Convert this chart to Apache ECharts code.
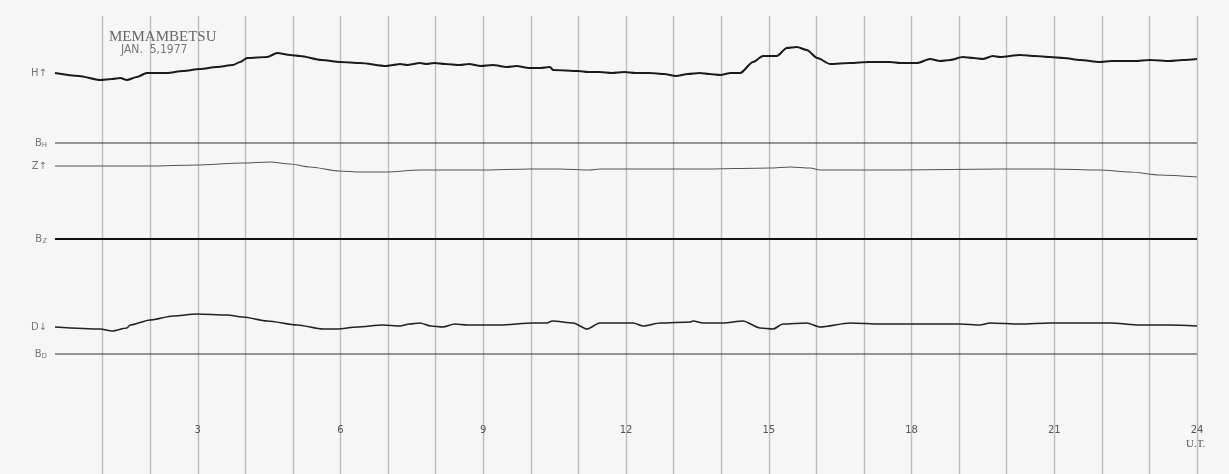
<!DOCTYPE html>
<html><head><meta charset="utf-8">
<style>html,body{margin:0;padding:0;background:#f6f6f6;}#c{width:1229px;height:474px;}</style>
<script src="https://cdn.jsdelivr.net/npm/echarts@6/dist/echarts.min.js"></script>
</head><body><div id="c"></div>
<script>
// Magnetogram record, Memambetsu, Jan 5 1977. x = hour (U.T.), y = trace height on record
const hourTicks = [3, 6, 9, 12, 15, 18, 21, 24];
const traceH = [[0,401],[0.5,398],[0.95,394],[1.2,395],[1.37,396],[1.51,394],[1.72,397],[1.93,401],[2.35,401],[2.69,403],[3.05,405],[3.4,407],[3.74,409],[3.89,412],[4.04,416],[4.46,417],[4.67,421],[4.94,419],[5.15,418],[5.6,414],[6.0,412],[6.41,411],[6.96,408],[7.1,409],[7.25,410],[7.4,409],[7.67,411],[7.8,410],[7.97,411],[8.2,410],[8.5,409],[8.7,410],[8.95,408],[9.2,409],[9.5,407],[9.7,408],[9.96,406],[10.2,406],[10.4,407],[10.47,404],[11.0,403],[11.2,402],[11.45,402],[11.7,401],[11.96,402],[12.2,401],[12.5,401],[12.8,400],[13.05,398],[13.3,400],[13.55,401],[13.75,400],[13.98,399],[14.2,401],[14.4,401],[14.67,412],[14.88,418],[15.17,418],[15.38,426],[15.59,427],[15.8,424],[16.02,416],[16.29,410],[16.71,411],[17.1,412],[17.55,412],[17.76,411],[18.12,411],[18.39,415],[18.6,413],[18.81,414],[19.08,417],[19.3,416],[19.5,415],[19.71,418],[19.86,417],[20.28,419],[20.6,418],[20.91,417],[21.2,416],[21.54,414],[21.96,412],[22.2,413],[22.38,413],[22.7,413],[23.01,414],[23.43,413],[23.7,414],[24,415]];
const traceZ = [[0,308],[0.97,308],[2.0,308],[2.96,309],[3.95,311],[4.52,312],[4.94,310],[5.36,307],[5.97,303],[6.41,302],[6.96,302],[7.67,304],[8.95,304],[9.96,305],[10.61,305],[11.24,304],[11.45,305],[12.5,305],[13.56,305],[15.03,306],[15.45,307],[15.87,306],[16.08,304],[16.92,304],[17.76,304],[19.86,305],[20.91,305],[21.96,304],[22.59,302],[23.22,299],[24,297]];
const traceD = [[0,147],[0.95,145],[1.2,143],[1.51,146],[1.58,149],[2.0,154],[2.48,158],[2.98,160],[3.61,159],[3.95,157],[4.46,153],[5.09,149],[5.63,145],[5.93,145],[6.35,147],[6.89,149],[7.25,148],[7.45,150],[7.67,151],[7.9,148],[8.15,147],[8.4,150],[8.66,149],[9.35,149],[10.05,151],[10.34,151],[10.45,153],[10.89,151],[11.18,145],[11.45,151],[12.15,151],[12.36,148],[12.72,151],[13.35,152],[13.41,153],[13.62,151],[14.04,151],[14.46,153],[14.82,146],[15.09,145],[15.3,150],[15.8,151],[16.08,147],[16.71,151],[17.34,150],[18.18,150],[19.02,150],[19.44,149],[19.65,151],[20.28,150],[20.91,151],[21.54,151],[22.17,151],[22.8,149],[23.43,149],[24,148]];
const baseH = 331;
const baseZ = 235;
const baseD = 120;
const traceNames = ['H↑', 'Z↑', 'D↓'];
const baseNames = ['B{s|H}', 'B{s|Z}', 'B{s|D}'];

const chart = echarts.init(document.getElementById('c'), null, {renderer: 'canvas'});
function lineSeries(data, color, width) {
  return { type: 'line', data, showSymbol: false, symbol: 'none', smooth: 0.25, smoothMonotone: 'x', silent: true,
    lineStyle: { color, width, join: 'round' } };
}
function baseSeries(v, color, width) {
  return { type: 'line', data: [[0, v], [24, v]], showSymbol: false, symbol: 'none', silent: true,
    lineStyle: { color, width } };
}
const labelData = [
  { value: [0, traceH[0][1]], name: traceNames[0] },
  { value: [0, baseH], name: baseNames[0] },
  { value: [0, traceZ[0][1]], name: traceNames[1] },
  { value: [0, baseZ], name: baseNames[1] },
  { value: [0, traceD[0][1]], name: traceNames[2] },
  { value: [0, baseD], name: baseNames[2] }
];
chart.setOption({
  backgroundColor: '#f6f6f6',
  animation: false,
  grid: { left: 55, right: 32, top: 16, bottom: 0 },
  xAxis: {
    type: 'value', min: 0, max: 24, interval: 1,
    axisLine: { show: false }, axisTick: { show: false },
    axisLabel: {
      margin: -49, color: '#555', fontSize: 10, fontFamily: 'DejaVu Sans',
      formatter: v => hourTicks.includes(v) ? String(v) : '',
      showMinLabel: true, showMaxLabel: true
    },
    splitLine: { show: true, showMinLine: false, lineStyle: { color: '#bdbdbd', width: 1.4 } }
  },
  yAxis: {
    type: 'value', min: 0, max: 458, show: false, splitLine: { show: false }
  },
  title: [
    { text: 'MEMAMBETSU', left: 104, top: 25,
      textStyle: { fontFamily: 'Liberation Serif', fontWeight: 'normal', fontSize: 15, color: '#666' } },
    { text: 'JAN.  5,1977', left: 116, top: 39,
      textStyle: { fontFamily: 'Liberation Sans Narrow, DejaVu Sans Condensed, Liberation Sans', fontWeight: 'normal', fontSize: 12, color: '#777' } }
  ],
  graphic: [
    { type: 'text', left: 1186, top: 439,
      style: { text: 'U.T.', fill: '#555', font: '11px "Liberation Serif"' } }
  ],
  series: [
    lineSeries(traceH, '#1a1a1a', 2),
    baseSeries(baseH, '#333', 1),
    lineSeries(traceZ, '#555', 1.2),
    baseSeries(baseZ, '#111', 2),
    lineSeries(traceD, '#222', 1.6),
    baseSeries(baseD, '#333', 1),
    { type: 'scatter', data: labelData, symbolSize: 0, silent: true, clip: false,
      label: {
        show: true, position: 'left', distance: 8, color: '#555',
        fontFamily: 'DejaVu Sans', fontSize: 10,
        formatter: p => p.name,
        rich: { s: { fontSize: 7, color: '#555', padding: [5, 0, 0, 0], fontFamily: 'DejaVu Sans' } }
      },
      labelLayout: { hideOverlap: false }
    }
  ]
});
</script></body></html>
